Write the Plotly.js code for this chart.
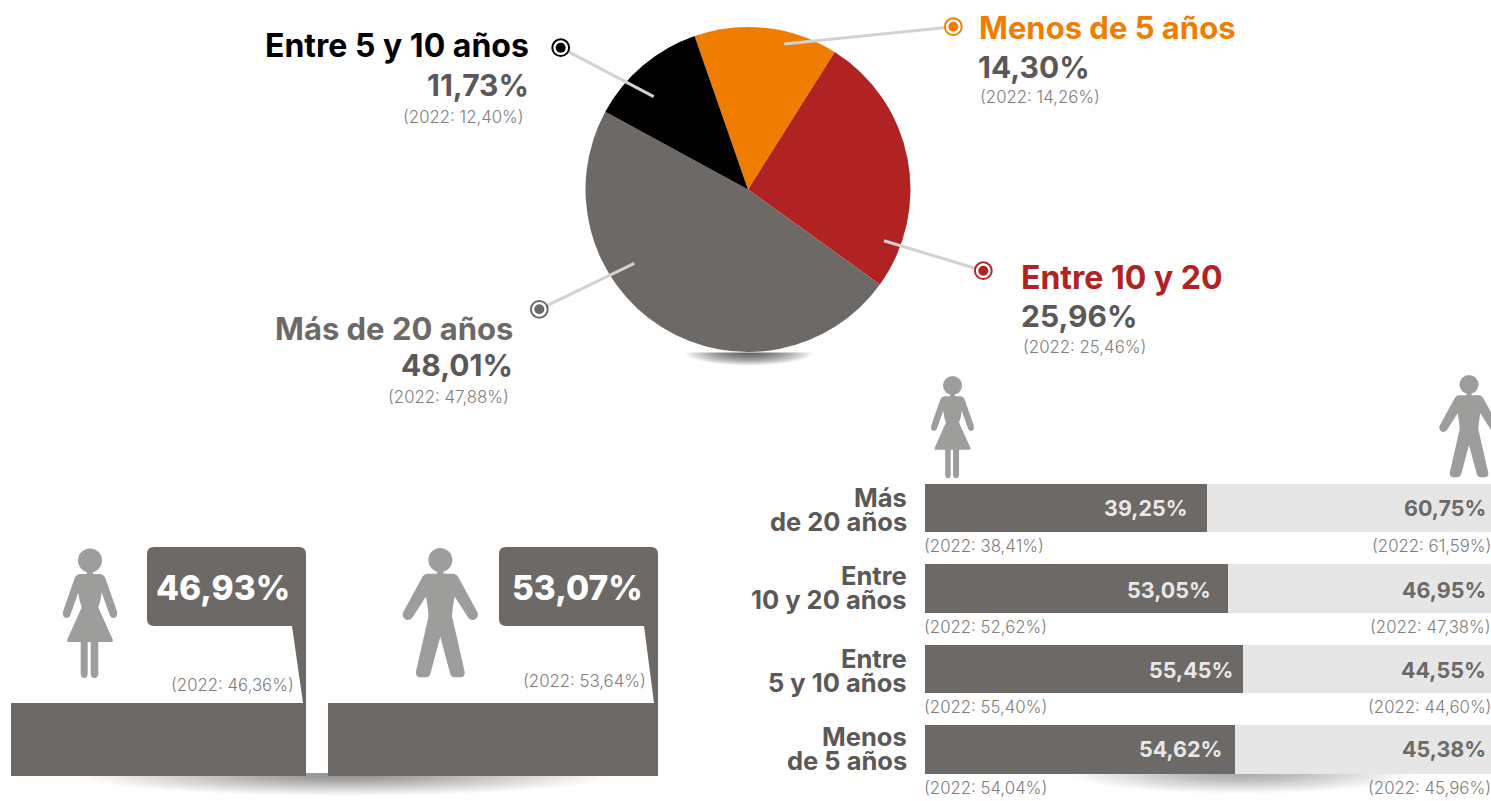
<!DOCTYPE html>
<html>
<head>
<meta charset="utf-8">
<script src="https://cdn.plot.ly/plotly-3.0.1.min.js"></script>
<style>html,body{margin:0;padding:0;background:#fff;overflow:hidden}#chart{width:1491px;height:801px}</style>
</head>
<body>
<div id="chart"></div>
<script>
// Tenure pie
var tenureLabels = ['Menos de 5 años', 'Entre 10 y 20', 'Más de 20 años', 'Entre 5 y 10 años'];
var tenureValues = [14.30, 25.96, 48.01, 11.73];
var tenureText = ['14,30%', '25,96%', '48,01%', '11,73%'];
var tenurePrev = ['(2022: 14,26%)', '(2022: 25,46%)', '(2022: 47,88%)', '(2022: 12,40%)'];
var tenureColors = ['#f07d00', '#b12322', '#6d6967', '#000000'];

// Overall split by sex
var sexValues = [46.93, 53.07];
var sexText = ['46,93%', '53,07%'];
var sexPrev = ['(2022: 46,36%)', '(2022: 53,64%)'];

// Split by sex for each tenure band. The printed percentages are the text arrays;
// the reference draws these bars longer than their printed value, so the lengths
// here are what the picture shows, as a share of the full bar.
var rowCategories = ['Más<br>de 20 años', 'Entre<br>10 y 20 años', 'Entre<br>5 y 10 años', 'Menos<br>de 5 años'];
var womenDrawn = [49.8, 53.5, 56.2, 54.8];
var menDrawn = [50.2, 46.5, 43.8, 45.2];
var womenText = ['39,25%', '53,05%', '55,45%', '54,62%'];
var menText = ['60,75%', '46,95%', '44,55%', '45,38%'];
var womenPrev = ['(2022: 38,41%)', '(2022: 52,62%)', '(2022: 55,40%)', '(2022: 54,04%)'];
var menPrev = ['(2022: 61,59%)', '(2022: 47,38%)', '(2022: 44,60%)', '(2022: 45,96%)'];

var W = 1491, H = 801;
var GRAY = '#6d6967', DARKTXT = '#5b5857', LIGHT = '#e6e6e6', ICON = '#9d9d9c', SUB = '#7f7d7c';
var BOLD = 'Inter, sans-serif', THIN = 'Inter, sans-serif';
function px(x) { return x / W; }
function py(y) { return 1 - y / H; }
function P(x, y) { return px(x) + ',' + py(y); }
function domX(a, b) { return [px(a), px(b)]; }
function domY(top, bottom) { return [py(bottom), py(top)]; }
// annotation boxes keep about 2 px of padding on their anchored side
function inset(x, anchor) { return anchor === 'left' ? x - 2 : anchor === 'right' ? x + 2 : x; }

var traces = [
  { type: 'pie', labels: tenureLabels, values: tenureValues, sort: false, direction: 'clockwise', rotation: -19.2,
    marker: { colors: tenureColors, line: { width: 0 } }, textinfo: 'none', hoverinfo: 'label+percent', showlegend: false,
    domain: { x: domX(585.5, 910.5), y: domY(27, 352) } },
  { type: 'bar', orientation: 'h', y: rowCategories, x: womenDrawn, marker: { color: GRAY, line: { width: 0 } }, width: 0.6, name: 'Mujeres', showlegend: false, xaxis: 'x', yaxis: 'y', hoverinfo: 'skip' },
  { type: 'bar', orientation: 'h', y: rowCategories, x: menDrawn, marker: { color: LIGHT, line: { width: 0 } }, width: 0.6, name: 'Hombres', showlegend: false, xaxis: 'x', yaxis: 'y', hoverinfo: 'skip' },
  { type: 'bar', orientation: 'h', y: ['Mujeres'], x: [sexValues[0]], marker: { color: GRAY, line: { width: 0 } }, width: 1, showlegend: false, xaxis: 'x2', yaxis: 'y2', hoverinfo: 'skip' },
  { type: 'bar', orientation: 'h', y: ['Hombres'], x: [sexValues[1]], marker: { color: GRAY, line: { width: 0 } }, width: 1, showlegend: false, xaxis: 'x3', yaxis: 'y3', hoverinfo: 'skip' }
];

var hidden = { visible: false, fixedrange: true };
function ax(o) { return Object.assign({}, hidden, o); }

var shapes = [];
var annotations = [];

function note(text, x, y, anchor, size, color, weight, font) {
  annotations.push({ text: text, xref: 'paper', yref: 'paper', x: px(inset(x, anchor)), y: py(y), xanchor: anchor, yanchor: 'middle',
    showarrow: false, borderpad: 0, font: { family: font || BOLD, size: size, color: color, weight: weight } });
}
function rowNote(text, x, row, shift, anchor, size, color, weight) {
  annotations.push({ text: text, xref: 'paper', yref: 'y', x: px(inset(x, anchor)), y: rowCategories[row], yshift: shift, xanchor: anchor, yanchor: 'middle',
    showarrow: false, borderpad: 0, font: { family: BOLD, size: size, color: color, weight: weight } });
}
function poly(cmds, fill, layer) {
  shapes.push({ type: 'path', xref: 'paper', yref: 'paper', path: cmds, fillcolor: fill, line: { width: 0 }, layer: layer || 'above' });
}
function circle(cx, cy, r, fill, lineColor, lineWidth, layer) {
  shapes.push({ type: 'circle', xref: 'paper', yref: 'paper', x0: px(cx - r), x1: px(cx + r), y0: py(cy + r), y1: py(cy - r),
    fillcolor: fill, line: { color: lineColor || fill, width: lineWidth || 0 }, layer: layer || 'above' });
}
function softShadow(cx, cy, rx, ry, steps, alpha) {
  for (var i = 0; i < steps; i++) {
    var k = 1 - i / steps;
    shapes.push({ type: 'circle', xref: 'paper', yref: 'paper', x0: px(cx - rx * k), x1: px(cx + rx * k), y0: py(cy + ry * k), y1: py(cy - ry * k),
      fillcolor: 'rgba(40,38,37,' + alpha + ')', line: { width: 0 }, layer: 'below' });
  }
}
function whiteMask(x0, x1, y0, y1) {
  shapes.push({ type: 'rect', xref: 'paper', yref: 'paper', x0: px(x0), x1: px(x1), y0: py(y1), y1: py(y0), fillcolor: '#ffffff', line: { width: 0 }, layer: 'below' });
}

// soft shadows under the pie and the bar blocks
softShadow(749, 352.5, 64, 13, 30, 0.035);
whiteMask(670, 830, 330, 352.5);
softShadow(345, 775, 265, 21, 40, 0.011);
whiteMask(300, 335, 745, 773);
softShadow(1240, 773.5, 170, 20, 32, 0.016);

// leader lines and target markers of the pie
var leaders = [
  [784.3, 44, 953.3, 26.7, '#f07d00'],
  [884, 240.7, 983.3, 270.7, '#b12322'],
  [634.3, 263.3, 539.3, 309.3, '#6d6967'],
  [653.7, 96.7, 560.7, 47.7, '#000000']
];
leaders.forEach(function (l) {
  shapes.push({ type: 'line', xref: 'paper', yref: 'paper', x0: px(l[0]), y0: py(l[1]), x1: px(l[2]), y1: py(l[3]), line: { color: '#d2d2d2', width: 3 }, layer: 'above' });
  circle(l[2], l[3], 8.4, '#ffffff', l[4], 2);
  circle(l[2], l[3], 5, l[4]);
});

// callout bubbles rising from the blocks
function bubble(l, r, tailTop, tailBottom) {
  var t = 547, b = 626, base = 703, c = 7;
  poly('M' + P(l + c, t) + ' L' + P(r - c, t) + ' Q' + P(r, t) + ' ' + P(r, t + c) + ' L' + P(r, base + 2) + ' L' + P(tailBottom, base + 2) +
       ' L' + P(tailBottom, base) + ' L' + P(tailTop, b) + ' L' + P(l + c, b) + ' Q' + P(l, b) + ' ' + P(l, b - c) + ' L' + P(l, t + c) + ' Q' + P(l, t) + ' ' + P(l + c, t) + ' Z', GRAY);
}
bubble(147, 306, 292, 303);
bubble(499, 658, 644, 654);

// silhouettes, in a frame of about 130 px tall with the head top at 0,0
var womanBody = [['M', -10, 25.5], ['L', 10, 25.5], ['Q', 14, 26, 15.5, 30], ['L', 27, 63], ['Q', 28, 69, 23.5, 69.5], ['Q', 20.5, 69.5, 19.3, 65.5],
  ['L', 11.7, 44], ['Q', 11, 52, 8.3, 59], ['L', 22.7, 91], ['Q', 23.5, 93.5, 21, 93.5], ['L', 8.3, 93.5], ['L', 8.3, 125], ['Q', 8, 129.5, 4.5, 129.5], ['Q', 1, 129.5, 0.7, 125], ['L', 0.7, 93.5],
  ['L', -2.3, 93.5], ['L', -2.3, 125], ['Q', -2.5, 129.5, -5.8, 129.5], ['Q', -9, 129.5, -9.3, 125], ['L', -9.3, 93.5], ['L', -21, 93.5], ['Q', -23.5, 93.5, -22.7, 91], ['L', -8.3, 59], ['Q', -11, 52, -11.7, 44],
  ['L', -19.3, 65.5], ['Q', -20.5, 69.5, -23.5, 69.5], ['Q', -28, 69, -27, 63], ['L', -15.5, 30], ['Q', -14, 26, -10, 25.5]];
var manBody = [['M', -13, 25.7], ['L', 13, 25.7], ['Q', 16.5, 26, 18.5, 30], ['L', 37.5, 65], ['Q', 38.5, 70, 33.5, 72], ['Q', 29.5, 72.5, 27.5, 69],
  ['L', 14.3, 48.5], ['Q', 12.5, 58, 11.7, 68], ['L', 24.3, 123.5], ['Q', 25, 129.3, 20, 129.3], ['L', 14.5, 129.3], ['Q', 11, 129.3, 10, 126], ['L', 0, 88.7],
  ['L', -10, 126], ['Q', -11, 129.3, -14.5, 129.3], ['L', -20, 129.3], ['Q', -25, 129.3, -24.3, 123.5], ['L', -11.7, 68], ['Q', -12.5, 58, -14.3, 48.5],
  ['L', -27.5, 69], ['Q', -29.5, 72.5, -33.5, 72], ['Q', -38.5, 70, -37.5, 65], ['L', -18.5, 30], ['Q', -16.5, 26, -13, 25.7]];
function figure(body, cx, top, scale) {
  var d = body.map(function (c) {
    if (c[0] === 'Q') return 'Q' + P(cx + c[1] * scale, top + c[2] * scale) + ' ' + P(cx + c[3] * scale, top + c[4] * scale);
    return c[0] + P(cx + c[1] * scale, top + c[2] * scale);
  }).join(' ') + ' Z';
  poly(d, ICON);
  shapes.push({ type: 'rect', xref: 'paper', yref: 'paper', x0: px(cx - 3.2 * scale), x1: px(cx + 3.2 * scale), y0: py(top + 28 * scale), y1: py(top + 20 * scale), fillcolor: ICON, line: { width: 0 }, layer: 'above' });
  circle(cx, top + 12 * scale, 12 * scale, ICON);
}
figure(womanBody, 90, 548.5, 1.0);
figure(manBody, 440.3, 548, 1.0);
figure(womanBody, 952.5, 376, 0.79);
figure(manBody, 1469, 375, 0.79);

// pie labels
var MID = 30, SMALL = 16.8;
note(tenureLabels[0], 980, 28, 'left', 31, tenureColors[0], 700);
note(tenureText[0], 979, 67, 'left', MID, DARKTXT, 700);
note(tenurePrev[0], 981, 97, 'left', SMALL, SUB, 300, THIN);
note(tenureLabels[1], 1022, 278, 'left', 32, tenureColors[1], 700);
note(tenureText[1], 1022, 316, 'left', MID, DARKTXT, 700);
note(tenurePrev[1], 1024, 347, 'left', SMALL, SUB, 300, THIN);
note(tenureLabels[2], 512, 328, 'right', 31, tenureColors[2], 700);
note(tenureText[2], 512, 365, 'right', MID, DARKTXT, 700);
note(tenurePrev[2], 508, 397, 'right', SMALL, SUB, 300, THIN);
note(tenureLabels[3], 528, 45, 'right', 32, tenureColors[3], 700);
note(tenureText[3], 528, 85, 'right', MID, DARKTXT, 700);
note(tenurePrev[3], 523, 117, 'right', SMALL, SUB, 300, THIN);

// overall split labels
note(sexText[0], 223, 588, 'center', 33.5, '#ffffff', 800);
note(sexText[1], 577.5, 588, 'center', 33.5, '#ffffff', 800);
note(sexPrev[0], 293, 685, 'right', SMALL, SUB, 300, THIN);
note(sexPrev[1], 645, 681, 'right', SMALL, SUB, 300, THIN);

// row labels
var womenRight = [1187, 1210, 1232, 1221];
var labelNudge = [1, -1, 1, -1];
var valueNudge = [0, 1, 1, -1];
rowCategories.forEach(function (cat, i) {
  var lines = cat.split('<br>');
  rowNote(lines[0], 906, i, 12 - labelNudge[i], 'right', 25.5, DARKTXT, 700);
  rowNote(lines[1], 906, i, -12 - labelNudge[i], 'right', 25.5, DARKTXT, 700);
  rowNote(womenText[i], womenRight[i], i, -valueNudge[i], 'right', 21.5, '#e8e8e8', 700);
  rowNote(menText[i], 1485, i, -valueNudge[i], 'right', 21.5, GRAY, 700);
  rowNote(womenPrev[i], 925, i, -38, 'left', SMALL, SUB, 300);
  rowNote(menPrev[i], 1490, i, -38, 'right', SMALL, SUB, 300);
});

var layout = {
  width: W, height: H,
  margin: { l: 0, r: 0, t: 0, b: 0, pad: 0 },
  paper_bgcolor: '#ffffff', plot_bgcolor: 'rgba(0,0,0,0)',
  barmode: 'stack', bargap: 0,
  showlegend: false,
  xaxis: ax({ domain: domX(925, 1491), range: [0, 100], anchor: 'y' }),
  yaxis: ax({ domain: domY(467.75, 789.75), type: 'category', categoryorder: 'array', categoryarray: rowCategories, range: [3.5, -0.5], anchor: 'x' }),
  xaxis2: ax({ domain: domX(11, 306), range: [0, sexValues[0]], anchor: 'y2' }),
  yaxis2: ax({ domain: domY(703, 776), range: [-0.5, 0.5], type: 'category', anchor: 'x2' }),
  xaxis3: ax({ domain: domX(328, 658), range: [0, sexValues[1]], anchor: 'y3' }),
  yaxis3: ax({ domain: domY(703, 776), range: [-0.5, 0.5], type: 'category', anchor: 'x3' }),
  shapes: shapes,
  annotations: annotations
};
Plotly.newPlot('chart', traces, layout, { displayModeBar: false, staticPlot: true });
</script>
</body>
</html>
